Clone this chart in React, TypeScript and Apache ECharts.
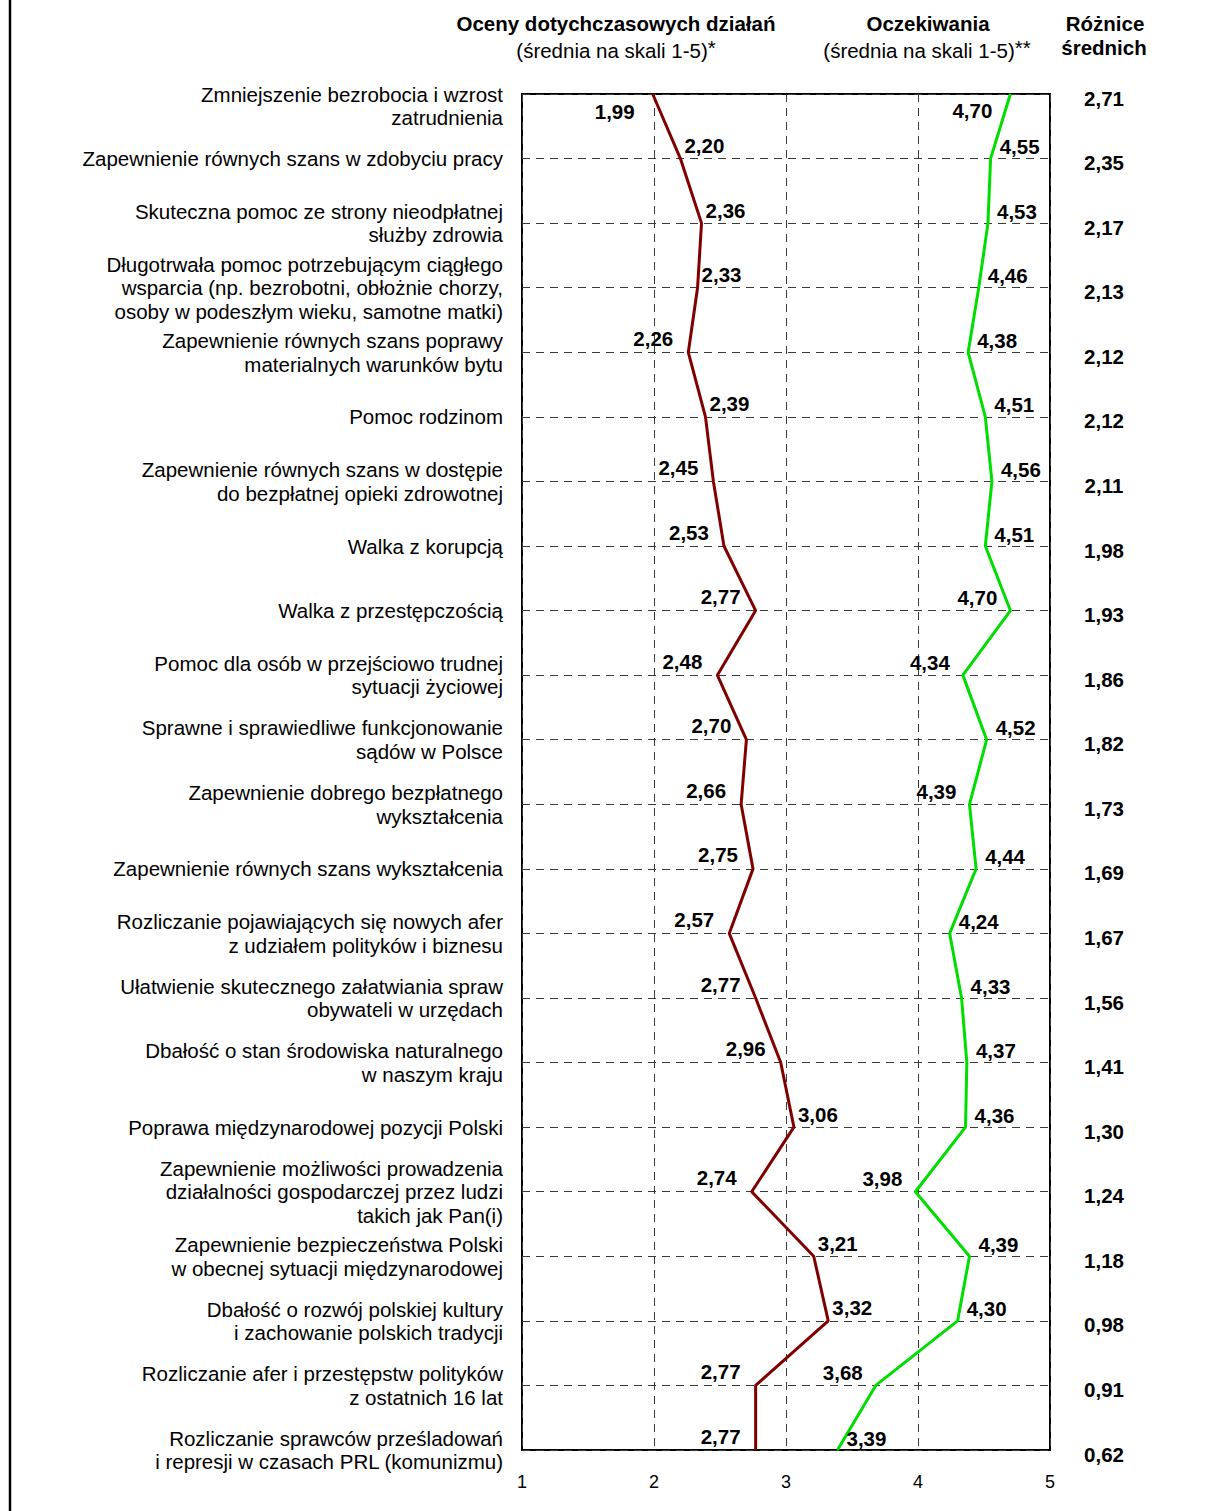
import React, { useEffect, useRef } from "react";
import * as echarts from "echarts";

const FONT = '"Liberation Sans", Arial, sans-serif';

const categories = [
  "Zmniejszenie bezrobocia i wzrost\nzatrudnienia",
  "Zapewnienie równych szans w zdobyciu pracy",
  "Skuteczna pomoc ze strony nieodpłatnej\nsłużby zdrowia",
  "Długotrwała pomoc potrzebującym ciągłego\nwsparcia (np. bezrobotni, obłożnie chorzy,\nosoby w podeszłym wieku, samotne matki)",
  "Zapewnienie równych szans poprawy\nmaterialnych warunków bytu",
  "Pomoc rodzinom",
  "Zapewnienie równych szans w dostępie\ndo bezpłatnej opieki zdrowotnej",
  "Walka z korupcją",
  "Walka z przestępczością",
  "Pomoc dla osób w przejściowo trudnej\nsytuacji życiowej",
  "Sprawne i sprawiedliwe funkcjonowanie\nsądów w Polsce",
  "Zapewnienie dobrego bezpłatnego\nwykształcenia",
  "Zapewnienie równych szans wykształcenia",
  "Rozliczanie pojawiających się nowych afer\nz udziałem polityków i biznesu",
  "Ułatwienie skutecznego załatwiania spraw\nobywateli w urzędach",
  "Dbałość o stan środowiska naturalnego\nw naszym kraju",
  "Poprawa międzynarodowej pozycji Polski",
  "Zapewnienie możliwości prowadzenia\ndziałalności gospodarczej przez ludzi\ntakich jak Pan(i)",
  "Zapewnienie bezpieczeństwa Polski\nw obecnej sytuacji międzynarodowej",
  "Dbałość o rozwój polskiej kultury\ni zachowanie polskich tradycji",
  "Rozliczanie afer i przestępstw polityków\nz ostatnich 16 lat",
  "Rozliczanie sprawców prześladowań\ni represji w czasach PRL (komunizmu)",
];

const oceny = [
  1.99, 2.2, 2.36, 2.33, 2.26, 2.39, 2.45, 2.53, 2.77, 2.48, 2.7, 2.66, 2.75,
  2.57, 2.77, 2.96, 3.06, 2.74, 3.21, 3.32, 2.77, 2.77,
];

const oczekiwania = [
  4.7, 4.55, 4.53, 4.46, 4.38, 4.51, 4.56, 4.51, 4.7, 4.34, 4.52, 4.39, 4.44,
  4.24, 4.33, 4.37, 4.36, 3.98, 4.39, 4.3, 3.68, 3.39,
];

const roznice = [
  2.71, 2.35, 2.17, 2.13, 2.12, 2.12, 2.11, 1.98, 1.93, 1.86, 1.82, 1.73, 1.69,
  1.67, 1.56, 1.41, 1.3, 1.24, 1.18, 0.98, 0.91, 0.62,
];

// label placement (style only): LB = left-below, L = left-above, R = right-above
const ocenySides = [
  "LB", "R", "R", "R", "L", "R", "L", "L", "L", "L", "L", "L", "L", "L", "L",
  "L", "R", "L", "R", "R", "L", "L",
];
const oczekiwaniaSides = [
  "LB", "R", "R", "R", "R", "R", "R", "R", "L", "L", "R", "L", "R", "R", "R",
  "R", "R", "L", "R", "R", "L", "R",
];

const ocenyOffsets: Record<string, number[]> = {
  LB: [-38, 17],
  L: [-35, -14],
  R: [24, -13],
};
const oczekiwaniaOffsets: Record<string, number[]> = {
  LB: [-38, 16],
  L: [-33, -13],
  R: [29, -12],
};

const fmt = (v: number) => v.toFixed(2).replace(".", ",");

export default function App() {
  const ref = useRef<HTMLDivElement>(null);

  useEffect(() => {
    if (!ref.current) return;
    const chart = echarts.init(ref.current, undefined, { renderer: "svg" });

    const labelBase = {
      show: true,
      position: "inside" as const,
      fontFamily: FONT,
      fontSize: 20.5,
      fontWeight: "bold" as const,
      color: "#000",
      formatter: (p: any) => fmt(p.value[0]),
    };

    const gridDash = { type: [8, 6] as number[], color: "#3a3a3a", width: 1 };

    const subRich = {
      a: { fontFamily: FONT, fontSize: 20.5, fill: "#000", lineHeight: 26 },
      s: {
        fontFamily: FONT,
        fontSize: 20.5,
        fill: "#000",
        verticalAlign: "top",
        lineHeight: 21,
      },
    };

    const option: any = {
      animation: false,
      backgroundColor: "#fff",
      textStyle: { fontFamily: FONT },
      grid: {
        left: 522,
        right: 158,
        top: 94,
        bottom: 61,
        show: true,
        borderColor: "#000",
        borderWidth: 2,
        backgroundColor: "transparent",
      },
      xAxis: {
        type: "value",
        min: 1,
        max: 5,
        interval: 1,
        axisLine: { show: false },
        axisTick: { show: false },
        axisLabel: {
          fontFamily: FONT,
          fontSize: 18,
          color: "#000",
          margin: 23,
          formatter: (v: number) => String(v),
        },
        splitLine: { show: true, lineStyle: gridDash },
      },
      yAxis: [
        {
          type: "category",
          inverse: true,
          boundaryGap: false,
          data: categories,
          axisLine: { show: false },
          axisTick: { show: false },
          axisLabel: {
            interval: 0,
            fontFamily: FONT,
            fontSize: 20.5,
            lineHeight: 23.5,
            color: "#000",
            margin: 19,
            align: "right",
            formatter: (v: string, i: number) => (i === 0 ? "\n" + v : v),
          },
          splitLine: { show: true, lineStyle: gridDash },
        },
        {
          type: "category",
          inverse: true,
          boundaryGap: false,
          position: "right",
          data: categories,
          axisLine: { show: false },
          axisTick: { show: false },
          axisLabel: {
            interval: 0,
            align: "center",
            margin: 54,
            formatter: (_v: string, i: number) => `{d|${fmt(roznice[i])}}`,
            rich: {
              d: {
                fontFamily: FONT,
                fontSize: 20.5,
                fontWeight: "bold",
                color: "#000",
                padding: [8, 0, 0, 0],
              },
            },
          },
          splitLine: { show: false },
        },
      ],
      series: [
        {
          name: "Oceny",
          type: "line",
          yAxisIndex: 0,
          symbol: "circle",
          symbolSize: 1,
          showSymbol: true,
          clip: false,
          lineStyle: { color: "#800000", width: 3 },
          itemStyle: { color: "#800000" },
          data: oceny.map((v, i) => ({
            value: [v, i],
            label: { offset: ocenyOffsets[ocenySides[i]] },
          })),
          label: labelBase,
          z: 3,
        },
        {
          name: "Oczekiwania",
          type: "line",
          yAxisIndex: 0,
          symbol: "circle",
          symbolSize: 1,
          showSymbol: true,
          clip: false,
          lineStyle: { color: "#00DD00", width: 3 },
          itemStyle: { color: "#00DD00" },
          data: oczekiwania.map((v, i) => ({
            value: [v, i],
            label: { offset: oczekiwaniaOffsets[oczekiwaniaSides[i]] },
          })),
          label: labelBase,
          z: 3,
        },
      ],
      graphic: [
        {
          type: "line",
          shape: { x1: 10, y1: 0, x2: 10, y2: 1511 },
          style: { stroke: "#000", lineWidth: 2.5 },
        },
        {
          type: "text",
          x: 616,
          y: 23,
          style: {
            text: "Oceny dotychczasowych działań",
            align: "center",
            verticalAlign: "middle",
            font: `bold 20.5px ${FONT}`,
            fill: "#000",
          },
        },
        {
          type: "text",
          x: 616,
          y: 50,
          style: {
            text: "{a|(średnia na skali 1-5)}{s|*}",
            align: "center",
            verticalAlign: "middle",
            rich: subRich,
          },
        },
        {
          type: "text",
          x: 928,
          y: 23,
          style: {
            text: "Oczekiwania",
            align: "center",
            verticalAlign: "middle",
            font: `bold 20.5px ${FONT}`,
            fill: "#000",
          },
        },
        {
          type: "text",
          x: 927,
          y: 50,
          style: {
            text: "{a|(średnia na skali 1-5)}{s|**}",
            align: "center",
            verticalAlign: "middle",
            rich: subRich,
          },
        },
        {
          type: "text",
          x: 1105,
          y: 23,
          style: {
            text: "Różnice",
            align: "center",
            verticalAlign: "middle",
            font: `bold 20.5px ${FONT}`,
            fill: "#000",
          },
        },
        {
          type: "text",
          x: 1104,
          y: 47,
          style: {
            text: "średnich",
            align: "center",
            verticalAlign: "middle",
            font: `bold 20.5px ${FONT}`,
            fill: "#000",
          },
        },
      ],
    };

    chart.setOption(option);
    return () => chart.dispose();
  }, []);

  return (
    <div
      ref={ref}
      style={{ position: "absolute", left: 0, top: 0, width: 1208, height: 1511 }}
    />
  );
}
